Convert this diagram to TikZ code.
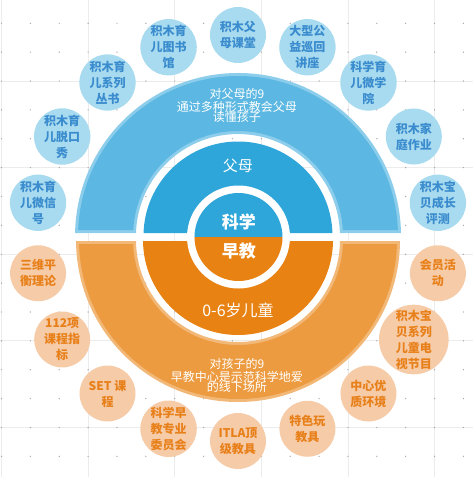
\documentclass[tikz,border=0pt]{standalone}
\usepackage{fontspec}
\setmainfont{Noto Sans CJK SC}
\usepackage{tikz}
\usetikzlibrary{positioning}

\definecolor{gridLine}{RGB}{236,236,236}
\definecolor{gridDot}{RGB}{165,165,165}
\definecolor{blueEdge}{RGB}{140,205,235}
\definecolor{blueBand}{RGB}{92,184,226}
\definecolor{blueMid}{RGB}{46,166,217}
\definecolor{orangeEdge}{RGB}{242,184,120}
\definecolor{orangeBand}{RGB}{237,155,64}
\definecolor{orangeMid}{RGB}{232,130,18}
\definecolor{bubbleBlue}{RGB}{168,219,239}
\definecolor{textBlue}{RGB}{58,140,206}
\definecolor{bubbleOrange}{RGB}{246,203,168}
\definecolor{textOrange}{RGB}{232,128,26}

\begin{document}
\begin{tikzpicture}[
  x=1pt, y=1pt,
  bubbleP/.style={circle, fill=bubbleBlue, minimum size=56pt, inner sep=0pt, align=center, text=textBlue, font=\bfseries\fontsize{12}{16}\selectfont},
  bubbleC/.style={circle, fill=bubbleOrange, minimum size=56pt, inner sep=0pt, align=center, text=textOrange, font=\bfseries\fontsize{12}{16}\selectfont},
  core/.style={text=white, font=\bfseries\fontsize{17}{17}\selectfont},
  ringtext/.style={text=white, font=\fontsize{15}{15}\selectfont},
  bandtext/.style={text=white, font=\fontsize{12}{12}\selectfont}
]
\useasboundingbox (-238,-239) rectangle (235,238);

% Background grid
\foreach \i in {0,...,5}
  \draw[gridLine, line width=0.8pt] (-236.5+86.6*\i,-239) -- (-236.5+86.6*\i,238);
\foreach \j in {1,...,5}
  \draw[gridLine, line width=0.8pt] (-238,243.6-86.6*\j) -- (235,243.6-86.6*\j);
\foreach \i in {0,...,16}
  \foreach \j in {1,...,16}
    \fill[gridDot] (-236.5+28.87*\i,243.6-28.87*\j) circle[radius=0.7];

% Parents half (top)
\fill[blueEdge] (163,5) arc[start angle=1.05, end angle=178.95, radius=163] -- (-102,5) arc[start angle=178.3, end angle=1.7, radius=102] -- cycle;
\fill[blueBand] (159.9,8) arc[start angle=2.15, end angle=177.85, radius=160] -- (-104.8,8) arc[start angle=176.72, end angle=3.28, radius=105] -- cycle;
\fill[blueMid] (94.45,5) arc[start angle=1.82, end angle=178.18, radius=94.5] -- cycle;

% Children half (bottom)
\fill[orangeEdge] (162,-3) arc[start angle=-0.35, end angle=-179.65, radius=162] -- (-102,-3) arc[start angle=-179.44, end angle=-0.56, radius=102] -- cycle;
\fill[orangeBand] (158.95,-6) arc[start angle=-1.44, end angle=-178.56, radius=159] -- (-104.92,-6) arc[start angle=-177.82, end angle=-2.18, radius=105] -- cycle;
\fill[orangeMid] (95,-3) arc[start angle=-0.6, end angle=-179.4, radius=95] -- cycle;

% Core
\fill[white] (0.5,1) circle[radius=51.5];
\fill[blueMid] (44.5,1) arc[start angle=0, end angle=180, radius=44] -- cycle;
\fill[orangeMid] (44.5,1) arc[start angle=0, end angle=-180, radius=44] -- cycle;

\node[core] (sci) at (1,16) {科学};
\node[core] (early) at (1,-13) {早教};
\node[ringtext] (parents) at (0,72) {父母};
\node[ringtext, font=\fontsize{16}{16}\selectfont] (kids) at (0,-72) {0-6岁儿童};

% Band texts
\node[bandtext] (pTitle) at (-1,144) {对父母的9};
\node[bandtext] (pLine) at (-1,131) {通过多种形式教会父母};
\node[bandtext] (pEnd) at (-1,121) {读懂孩子};
\node[bandtext] (cTitle) at (-1,-126) {对孩子的9};
\node[bandtext] (cLine) at (-1,-139) {早教中心是示范科学地爱};
\node[bandtext] (cEnd) at (-1,-149) {的线下场所};

% Parent bubbles
\node[bubbleP] (p1) at (170:203) {积木育\\儿微信\\号};
\node[bubbleP] (p2) at (150:203) {积木育\\儿脱口\\秀};
\node[bubbleP] (p3) at (130:203) {积木育\\儿系列\\丛书};
\node[bubbleP] (p4) at (110:203) {积木育\\儿图书\\馆};
\node[bubbleP] (p5) at (90:203) {积木父\\母课堂};
\node[bubbleP] (p6) at (70:203) {大型公\\益巡回\\讲座};
\node[bubbleP] (p7) at (50:203) {科学育\\儿微学\\院};
\node[bubbleP] (p8) at (30:203) {积木家\\庭作业};
\node[bubbleP] (p9) at (10:203) {积木宝\\贝成长\\评测};

% Child bubbles
\node[bubbleC] (c1) at (-170:203) {三维平\\衡理论};
\node[bubbleC] (c2) at (-150:203) {112项\\课程指\\标};
\node[bubbleC] (c3) at (-130:203) {SET 课\\程};
\node[bubbleC] (c4) at (-110:203) {科学早\\教专业\\委员会};
\node[bubbleC] (c5) at (-90:203) {ITLA顶\\级教具};
\node[bubbleC] (c6) at (-70:203) {特色玩\\教具};
\node[bubbleC] (c7) at (-50:203) {中心优\\质环境};
\node[bubbleC] (c8) at (-30:203) {积木宝\\贝系列\\儿童电\\视节目};
\node[bubbleC] (c9) at (-10:203) {会员活\\动};

\end{tikzpicture}
\end{document}
